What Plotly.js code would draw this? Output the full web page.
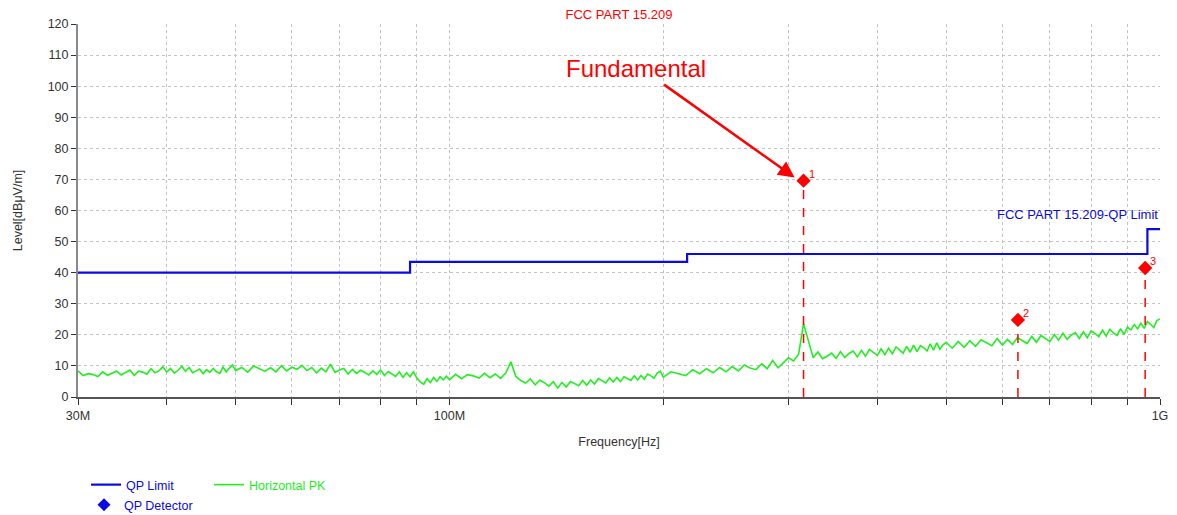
<!DOCTYPE html>
<html>
<head>
<meta charset="utf-8">
<script src="https://cdn.plot.ly/plotly-3.0.1.min.js"></script>
<style>html,body{margin:0;padding:0;background:#fff;}#chart{width:1177px;height:515px;}</style>
</head>
<body>
<div id="chart"></div>
<script>
// ---- Data (MHz / dBµV/m) ----
const pkFreq = [
  30,30.5,31,31.5,32,32.5,33,33.5,34,34.5,35,35.5,36,36.5,37,37.5,38,38.5,39,39.5,
  40,40.5,41,41.5,42,42.5,43,43.5,44,44.5,45,45.5,46,46.5,47,47.5,48,48.5,49,49.5,
  50,51,52,53,54,55,56,57,58,59,60,61,62,63,64,65,66,67,68,69,
  70,71,72,73,74,75,76,77,78,79,80,81,82,83,84,85,86,87,88,89,
  90,91,92,93,94,95,96,97,98,99,
  100,102,104,106,108,110,112,114,116,118,120,122,124,126,128,130,132,134,136,138,
  140,142,144,146,148,150,152,154,156,158,160,162,164,166,168,170,172,174,176,178,
  180,182,184,186,188,190,192,194,196,198,
  200,205,210,215,220,225,230,235,240,245,250,255,260,265,270,275,280,285,290,295,
  300,305,310,315,320,325,330,335,340,345,350,355,360,365,370,375,380,385,390,395,
  400,405,410,415,420,425,430,435,440,445,450,455,460,465,470,475,480,485,490,495,
  500,510,520,530,540,550,560,570,580,590,600,610,620,630,640,650,660,670,680,690,
  700,710,720,730,740,750,760,770,780,790,800,810,820,830,840,850,860,870,880,890,
  900,910,920,930,940,950,960,970,980,990,1000
];
const pkLevel = [
  8.4,6.9,7.5,7.2,6.6,8.1,7.0,7.6,8.3,7.1,7.9,8.7,6.9,8.3,8.0,7.3,9.1,7.8,8.4,9.7,
  8.0,9.2,7.7,8.6,9.9,8.3,9.5,7.8,8.4,9.0,7.5,8.8,7.9,9.2,8.1,7.6,9.6,8.1,9.3,10.3,
  8.5,9.5,8.0,10.0,9.1,8.3,9.4,8.1,10.1,8.4,9.6,8.9,10.2,8.5,9.5,7.8,9.3,8.1,10.6,7.9,
  8.7,9.2,7.4,8.9,7.6,8.6,7.9,7.1,8.4,7.3,8.7,6.9,8.2,7.5,6.6,8.1,6.3,7.8,6.5,8.1,
  6.0,4.9,4.1,5.9,4.6,6.3,5.0,6.5,5.5,6.7,
  5.6,7.3,5.9,7.2,6.8,6.1,7.6,6.2,7.4,6.0,7.7,11.3,6.6,5.3,4.5,5.8,3.9,5.4,4.6,3.5,
  4.9,2.9,4.7,3.2,5.0,4.3,3.6,5.3,3.8,5.5,4.2,5.9,5.1,4.5,6.2,4.8,6.3,5.0,6.5,5.9,
  5.3,6.8,5.5,6.9,5.7,7.4,6.9,6.0,7.7,8.3,
  6.4,8.1,7.5,6.9,8.8,7.5,9.1,7.8,9.5,8.1,9.8,8.4,10.3,9.3,8.8,10.7,9.1,11.8,9.4,11.0,
  12.6,11.6,13.8,23.6,18.2,12.6,14.5,12.3,13.1,14.1,12.4,14.6,12.7,14.0,14.8,12.9,15.0,13.1,15.3,14.2,
  13.4,15.5,13.6,15.7,13.9,16.1,15.0,14.1,16.3,14.4,16.7,14.6,16.5,15.8,14.8,17.1,15.1,17.4,15.4,16.8,
  17.6,15.7,17.9,16.0,18.1,16.3,18.4,17.5,16.5,18.8,16.7,18.5,16.9,19.1,18.2,17.2,19.5,17.6,19.8,18.7,
  17.9,20.1,18.3,20.5,18.6,19.9,20.7,18.8,21.0,19.1,21.3,20.5,19.4,21.5,19.6,21.8,20.6,19.8,22.0,20.1,
  22.5,21.6,23.3,21.9,23.7,22.1,24.3,23.4,22.3,24.6,25.1
];
const limitFreq = [30, 88, 216, 960, 1000];
const limitLevel = [40, 43.5, 46, 54, 54];
const markerFreq = [315, 631, 953];
const markerLevel = [69.6, 24.8, 41.5];
const markerLabel = ['1', '2', '3'];
const xTickVals = [30,40,50,60,70,80,90,100,200,300,400,500,600,700,800,900,1000];
const xTickText = ['30M','','','','','','','100M','','','','','','','','','1G'];
const yTickVals = [0,10,20,30,40,50,60,70,80,90,100,110,120];

// ---- Styles ----
const SANS = '"Liberation Sans", Arial, sans-serif';
const BLUE = '#0a0ae6';
const GREEN = '#22ee22';
const RED = '#ff0000';
const FS = 12.5;

// dashed drop lines for the detector markers
const dropX = [], dropY = [];
markerFreq.forEach((f, i) => { dropX.push(f, f, null); dropY.push(0, markerLevel[i], null); });

const traces = [
  { x: pkFreq, y: pkLevel, type: 'scatter', mode: 'lines', name: 'Horizontal PK',
    line: { color: GREEN, width: 1.6 }, legend: 'legend2' },
  { x: limitFreq, y: limitLevel, type: 'scatter', mode: 'lines', name: 'QP Limit',
    line: { color: BLUE, width: 2.2, shape: 'hv' }, legend: 'legend' },
  { x: dropX, y: dropY, type: 'scatter', mode: 'lines', showlegend: false,
    line: { color: RED, width: 1.5, dash: 'dash' }, hoverinfo: 'skip' },
  { x: markerFreq, y: markerLevel, type: 'scatter', mode: 'markers', showlegend: false,
    marker: { symbol: 'diamond', size: 11, color: RED } },
  { x: [null], y: [null], type: 'scatter', mode: 'markers', name: 'QP Detector',
    marker: { symbol: 'diamond', size: 10, color: BLUE }, legend: 'legend3' }
];

const annotations = markerFreq.map((f, i) => ({
  x: Math.log10(f), y: markerLevel[i], xref: 'x', yref: 'y', text: markerLabel[i],
  showarrow: false, xshift: 8, yshift: 7, font: { family: SANS, size: 11, color: RED }
}));
annotations.push(
  { x: Math.log10(183), y: 105.6, xref: 'x', yref: 'y', text: 'Fundamental', showarrow: false,
    font: { family: SANS, size: 24, color: RED } },
  { x: Math.log10(306), y: 70.6, xref: 'x', yref: 'y', text: '', showarrow: true,
    ax: -132, ay: -94, axref: 'pixel', ayref: 'pixel', arrowhead: 2, arrowsize: 1.3,
    arrowwidth: 2.5, arrowcolor: RED },
  { x: 1, y: 58.6, xref: 'paper', yref: 'y', xanchor: 'right', text: 'FCC PART 15.209-QP Limit',
    showarrow: false, font: { family: SANS, size: 13, color: BLUE } }
);

const legendBase = { orientation: 'h', bgcolor: 'rgba(0,0,0,0)', borderwidth: 0,
  xanchor: 'left', yanchor: 'top', itemwidth: 30 };

const layout = {
  width: 1177, height: 515,
  margin: { l: 78, r: 17, t: 24, b: 118, autoexpand: false },
  paper_bgcolor: '#ffffff', plot_bgcolor: '#ffffff',
  font: { family: SANS, size: FS, color: '#333333' },
  title: { text: 'FCC PART 15.209', x: 0.5, xref: 'paper', xanchor: 'center',
    y: 0.972, yref: 'container', yanchor: 'middle', font: { family: SANS, size: 13, color: RED } },
  xaxis: {
    type: 'log', range: [Math.log10(30), Math.log10(1000)],
    tickmode: 'array', tickvals: xTickVals, ticktext: xTickText,
    showgrid: true, gridcolor: '#c4c4c4', griddash: 'dot', gridwidth: 1,
    showline: true, linecolor: '#555555', linewidth: 1.5,
    ticks: 'outside', ticklen: 6, tickcolor: '#333333', tickwidth: 1,
    zeroline: false,
    tickfont: { family: SANS, size: FS, color: '#333333' },
    title: { text: 'Frequency[Hz]', standoff: 15, font: { family: SANS, size: FS, color: '#333333' } }
  },
  yaxis: {
    range: [0, 120], tickmode: 'array', tickvals: yTickVals,
    showgrid: true, gridcolor: '#c4c4c4', griddash: 'dot', gridwidth: 1,
    showline: true, linecolor: '#8a8a8a', linewidth: 2,
    ticks: 'outside', ticklen: 5, tickcolor: '#333333', tickwidth: 1,
    zeroline: false,
    tickfont: { family: SANS, size: FS, color: '#333333' },
    title: { text: 'Level[dBμV/m]', standoff: 22, font: { family: SANS, size: FS, color: '#333333' } }
  },
  showlegend: true,
  legend: Object.assign({}, legendBase, { x: (86 - 78) / 1082, y: (397 - 470) / 373,
    font: { family: SANS, size: FS, color: BLUE } }),
  legend2: Object.assign({}, legendBase, { x: (209 - 78) / 1082, y: (397 - 470) / 373,
    font: { family: SANS, size: FS, color: GREEN } }),
  legend3: Object.assign({}, legendBase, { x: (84 - 78) / 1082, y: (397 - 490) / 373,
    font: { family: SANS, size: FS, color: BLUE } }),
  annotations: annotations
};

Plotly.newPlot('chart', traces, layout, { displayModeBar: false, staticPlot: true });
</script>
</body>
</html>
